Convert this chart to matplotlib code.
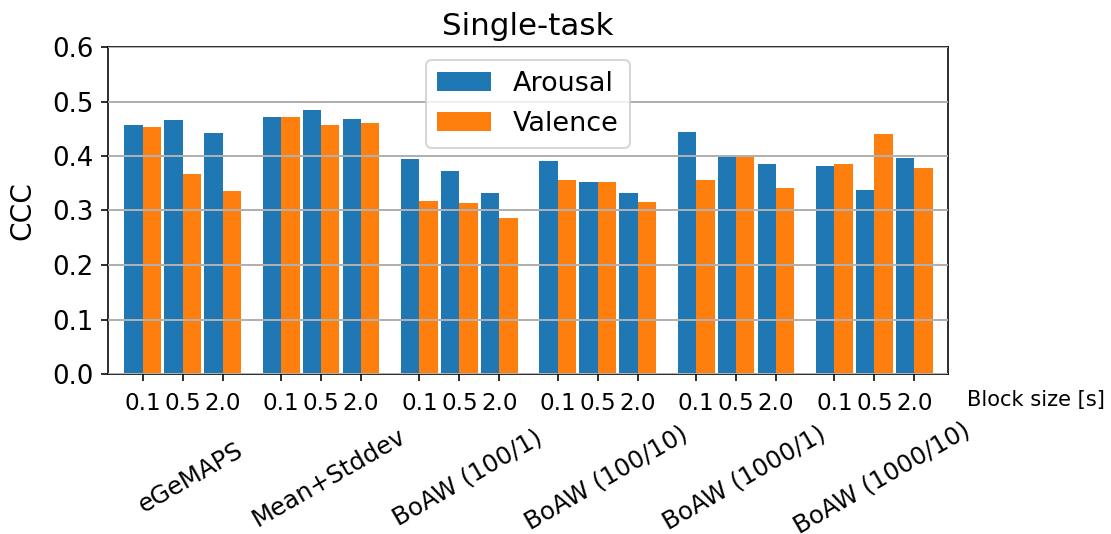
import numpy as np
import matplotlib
matplotlib.use("Agg")
from matplotlib import pyplot as plt

# CCC per feature set, block sizes 0.1 / 0.5 / 2.0 s
feature_sets = ["eGeMAPS", "Mean+Stddev", "BoAW (100/1)", "BoAW (100/10)",
                "BoAW (1000/1)", "BoAW (1000/10)"]
block_sizes = ["0.1", "0.5", "2.0"]

arousal = [0.457, 0.466, 0.442,
           0.472, 0.484, 0.468,
           0.395, 0.373, 0.332,
           0.391, 0.352, 0.332,
           0.444, 0.399, 0.385,
           0.382, 0.338, 0.396]
valence = [0.453, 0.367, 0.336,
           0.472, 0.457, 0.461,
           0.318, 0.314, 0.286,
           0.356, 0.352, 0.315,
           0.356, 0.399, 0.341,
           0.385, 0.440, 0.378]

DPI = 144
fig = plt.figure(figsize=(1111 / DPI, 534 / DPI), dpi=DPI)
ax = fig.add_axes([108 / 1111, 160 / 534, 840 / 1111, 327 / 534])

group_step = 3.46
width = 0.46
pos = np.array([g * group_step + j
                for g in range(len(feature_sets))
                for j in range(len(block_sizes))])

ax.bar(pos - width / 2, arousal, width, color="#1f77b4", label="Arousal")
ax.bar(pos + width / 2, valence, width, color="#ff7f0e", label="Valence")

ax.set_xlim(pos[0] - 0.87, pos[-1] + 0.84)
ax.set_ylim(0, 0.6)
ax.set_yticks(np.arange(0, 0.61, 0.1))
ax.set_xticks(pos)
ax.set_xticklabels(block_sizes * len(feature_sets), fontsize=11.5)
ax.tick_params(axis="x", pad=5.5)
ax.tick_params(axis="y", labelsize=13)
ax.yaxis.grid(True, color="#b0b0b0", linewidth=1.0)
ax.set_axisbelow(False)

ax.set_ylabel("CCC", fontsize=14, labelpad=8)
ax.set_title("Single-task", fontsize=15.5)
ax.legend(loc="upper center", fontsize=13.5)

for g, name in enumerate(feature_sets):
    ax.annotate(name, xy=(pos[g * 3 + 1] + 0.2, -0.318),
                xycoords=("data", "axes fraction"),
                rotation=30, ha="center", va="center", fontsize=12.2)

ax.annotate("Block size [s]", xy=(1.0226, -0.08), xycoords="axes fraction",
            ha="left", va="center", fontsize=10.5)

plt.savefig("out.png", dpi=DPI)
